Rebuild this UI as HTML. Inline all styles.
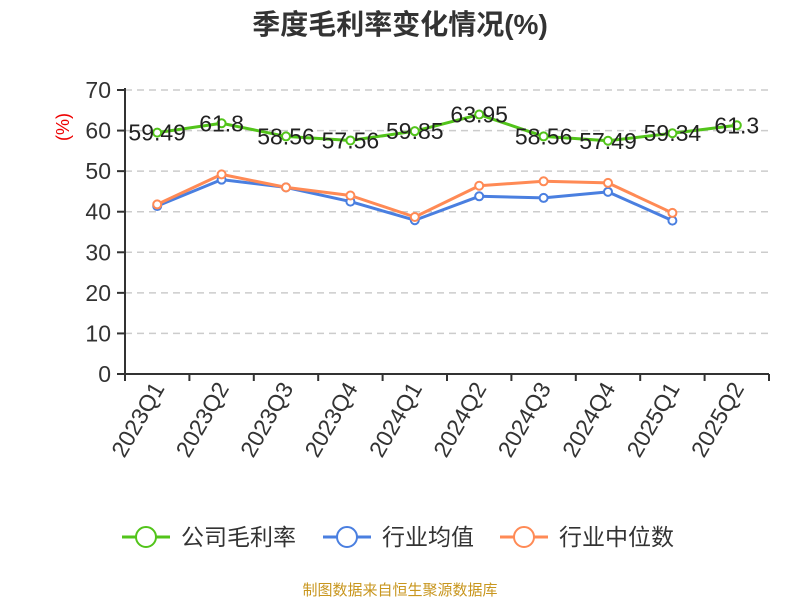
<!DOCTYPE html>
<html><head><meta charset="utf-8"><style>
body{margin:0;background:#fff;}
svg text{font-family:"Liberation Sans","Noto Sans CJK SC",sans-serif;}
</style></head><body>
<svg id="c" width="800" height="600" xmlns="http://www.w3.org/2000/svg">
<text x="400" y="34" text-anchor="middle" font-size="28" font-weight="bold" fill="#333">季度毛利率变化情况(%)</text>
<text x="0" y="0" transform="translate(69,127) rotate(-90)" text-anchor="middle" font-size="18" fill="#e00">(%)</text>
<g id="grid"></g><g id="axes"></g><g id="series"></g>
<g>
<g><line x1="122" y1="537" x2="170" y2="537" stroke="#52c41a" stroke-width="3"/><circle cx="146" cy="537" r="10" fill="#fff" stroke="#52c41a" stroke-width="2"/><text x="181" y="545" font-size="23" fill="#333">公司毛利率</text></g>
<g><line x1="323" y1="537" x2="371" y2="537" stroke="#4a7fe0" stroke-width="3"/><circle cx="347" cy="537" r="10" fill="#fff" stroke="#4a7fe0" stroke-width="2"/><text x="382" y="545" font-size="23" fill="#333">行业均值</text></g>
<g><line x1="500" y1="537" x2="548" y2="537" stroke="#ff8a55" stroke-width="3"/><circle cx="524" cy="537" r="10" fill="#fff" stroke="#ff8a55" stroke-width="2"/><text x="559" y="545" font-size="23" fill="#333">行业中位数</text></g>
</g>
<text x="400" y="595" text-anchor="middle" font-size="15" fill="#c8961e">制图数据来自恒生聚源数据库</text>
</svg>
<script>
const categories=["2023Q1","2023Q2","2023Q3","2023Q4","2024Q1","2024Q2","2024Q3","2024Q4","2025Q1","2025Q2"];
const company=[59.49,61.8,58.56,57.56,59.85,63.95,58.56,57.49,59.34,61.3];
const industryAvg=[41.4,47.9,46.0,42.5,37.9,43.8,43.4,44.9,37.8,null];
const industryMedian=[41.8,49.2,46.0,44.0,38.7,46.4,47.5,47.1,39.7,null];
const yTicks=[0,10,20,30,40,50,60,70];
const NS="http://www.w3.org/2000/svg";
const x0=125,x1=769,y0=374,y1=90,ymax=70;
const band=(x1-x0)/categories.length;
const xs=i=>x0+band*(i+0.5);
const ys=v=>y0-(v/ymax)*(y0-y1);
function mk(tag,attrs,parent,text){const e=document.createElementNS(NS,tag);for(const k in attrs)e.setAttribute(k,attrs[k]);if(text!=null)e.textContent=text;parent.appendChild(e);return e;}
const grid=document.getElementById('grid'),axes=document.getElementById('axes'),ser=document.getElementById('series');
yTicks.forEach(t=>{
 if(t>0){const g=mk('line',{x1:x0,x2:x1,y1:ys(t),y2:ys(t),stroke:'#ccc','stroke-width':1.5,'stroke-dasharray':'7,5'},grid);
 
 }
 const tk=mk('line',{x1:x0-8,x2:x0,y1:ys(t),y2:ys(t),stroke:'#333','stroke-width':2},axes);
 
 
 const l=mk('text',{x:x0-14,y:ys(t)+8,'text-anchor':'end','font-size':23,fill:'#333'},axes,String(t));
 
 
});
const ya=mk('line',{x1:x0,x2:x0,y1:y1-2,y2:y0+6,stroke:'#333','stroke-width':2},axes);


const xa=mk('line',{x1:x0-8,x2:x1,y1:y0,y2:y0,stroke:'#333','stroke-width':2},axes);


for(let i=0;i<=categories.length;i++){const t=mk('line',{x1:x0+band*i,x2:x0+band*i,y1:y0,y2:y0+7,stroke:'#333','stroke-width':2},axes);
 
 }
categories.forEach((c,i)=>{const t=mk('text',{x:0,y:0,transform:`translate(${xs(i)+8},${y0+14}) rotate(-60)`,'text-anchor':'end','font-size':23,fill:'#333'},axes,c);
 
 });
function series(data,color,name,labels){
 const g=mk('g',{},ser);
 
 
 const pts=data.map((v,i)=>v==null?null:[xs(i),ys(v)]).filter(p=>p);
 mk('polyline',{points:pts.map(p=>p.join(',')).join(' '),fill:'none',stroke:color,'stroke-width':3,'stroke-linejoin':'round'},g);
 data.forEach((v,i)=>{if(v==null)return;
  const c=mk('circle',{cx:xs(i),cy:ys(v),r:4,fill:'#fff',stroke:color,'stroke-width':2},g);
  
  
  if(labels){const t=mk('text',{x:xs(i),y:ys(v)+8,'text-anchor':'middle','font-size':23,fill:'#222'},g,String(v));
   
   }
 });
}
series(industryAvg,'#4a7fe0','industry-avg-line',false);
series(industryMedian,'#ff8a55','industry-median-line',false);
series(company,'#52c41a','gross-margin-line',true);
</script>
</body></html>
